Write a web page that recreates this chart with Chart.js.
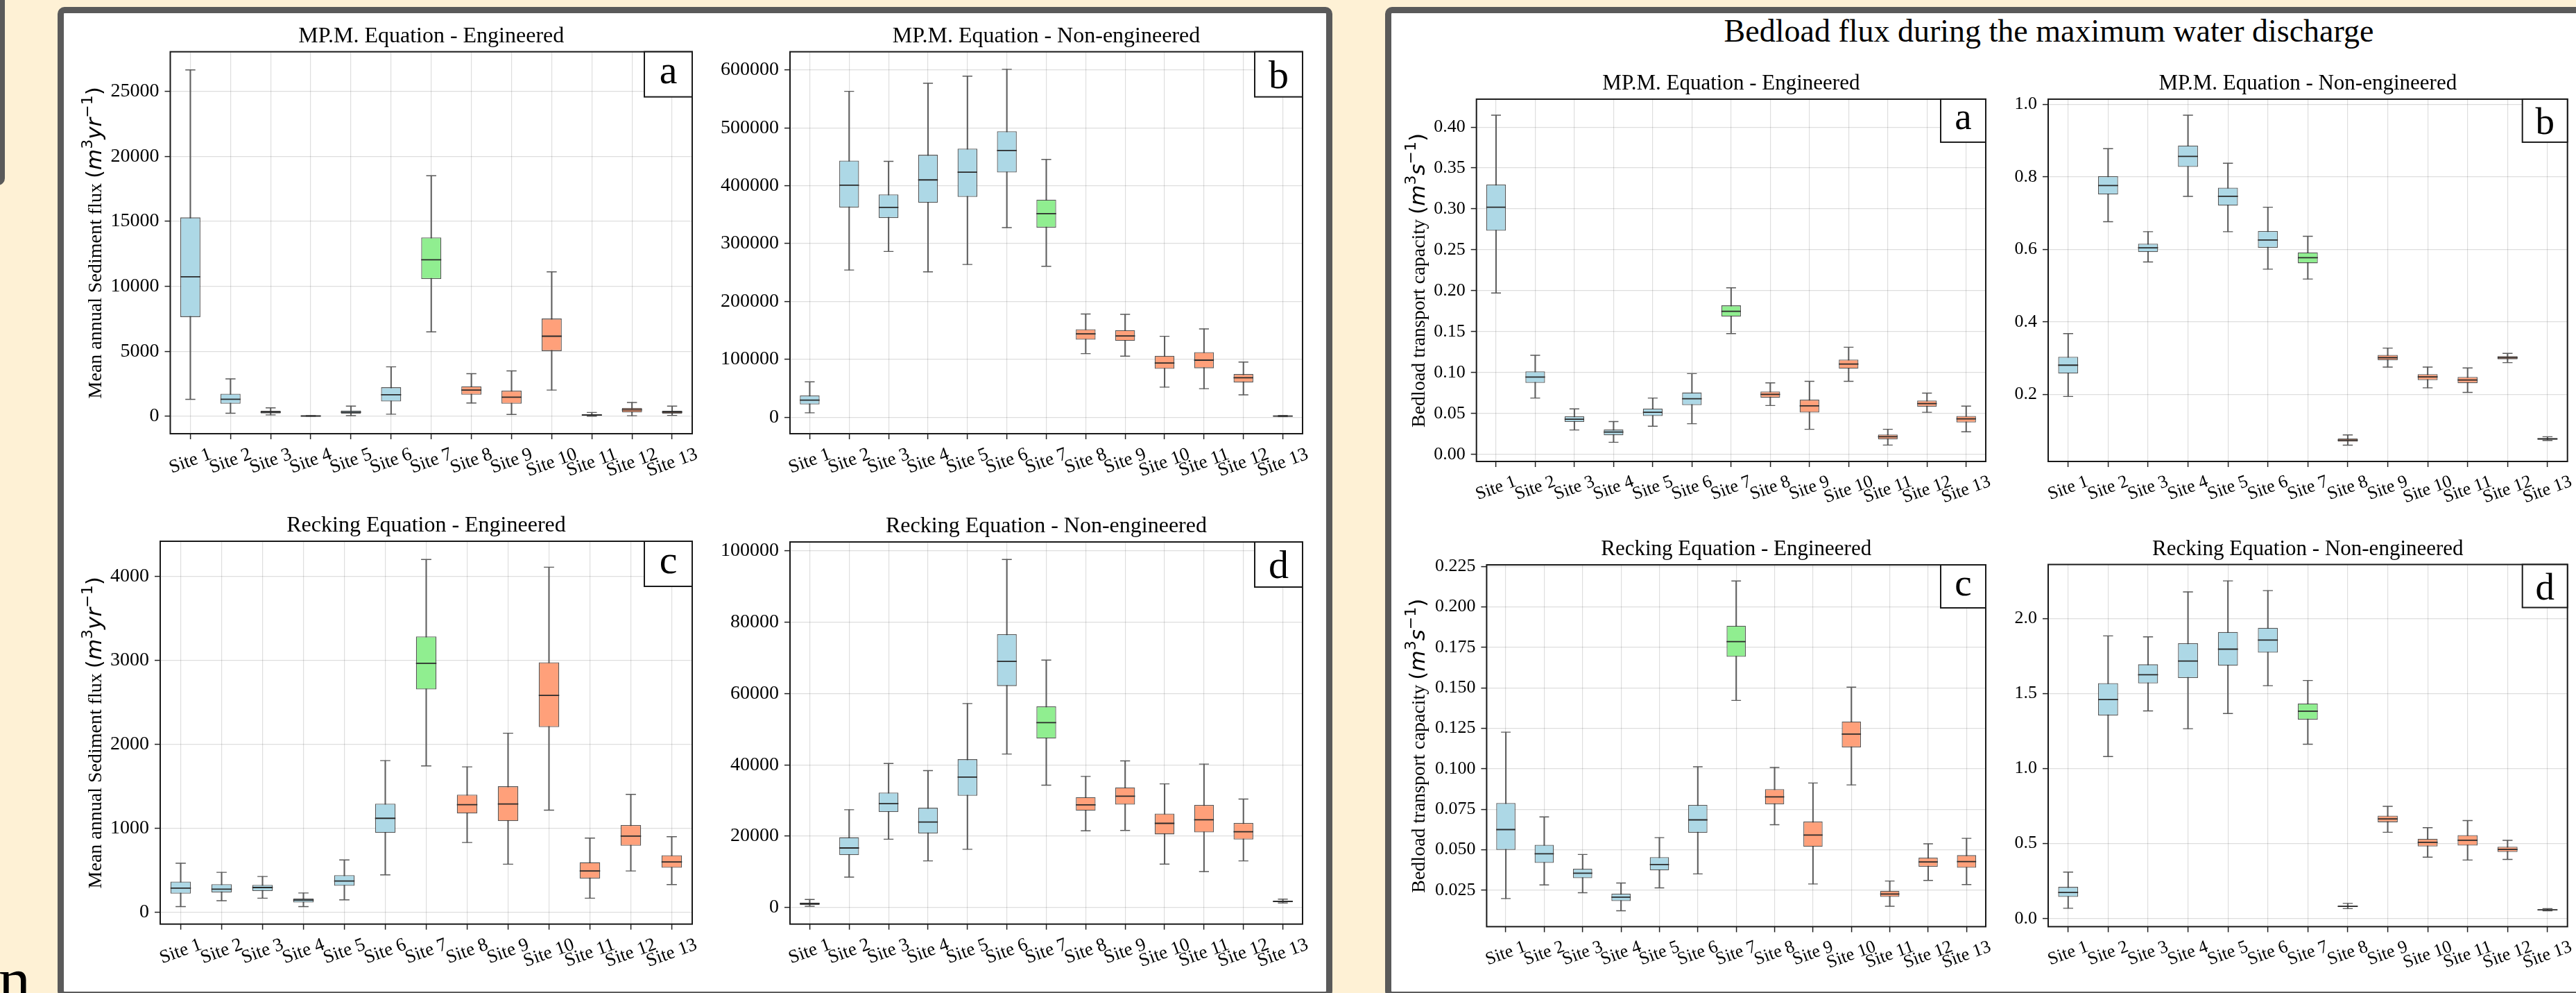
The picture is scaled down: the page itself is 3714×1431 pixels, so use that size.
<!DOCTYPE html>
<html>
<head>
<meta charset="utf-8">
<script src="https://cdn.jsdelivr.net/npm/chart.js@4.4.1/dist/chart.umd.min.js"></script>
<style>
  body { margin: 0; width: 3714px; height: 1431px; overflow: hidden; position: relative; background: #fef1d5; font-family: "Liberation Serif", serif; }
  .panel { position: absolute; box-sizing: border-box; border: 9px solid #5a5a5a; background: #fff; border-radius: 10px; }
  canvas { position: absolute; }
  #sup { position: absolute; left: 2354px; top: 22px; width: 1200px; text-align: center; font-size: 46px; line-height: 46px; color: #000; }
  #cut { position: absolute; left: -2px; top: 1366px; font-size: 92px; line-height: 92px; color: #000; }
</style>
</head>
<body>
<div class="panel" style="left:-40px;top:-40px;width:47px;height:307px"></div>
<div class="panel" style="left:83px;top:10px;width:1838px;height:1428px"></div>
<div class="panel" style="left:1997px;top:10px;width:1760px;height:1428px"></div>
<div id="sup">Bedload flux during the maximum water discharge</div>
<div id="cut">n</div>
<script>
// categories
const sites = ["Site 1", "Site 2", "Site 3", "Site 4", "Site 5", "Site 6", "Site 7",
    "Site 8", "Site 9", "Site 10", "Site 11", "Site 12", "Site 13"];
const siteColors = ["#add8e6", "#add8e6", "#add8e6", "#add8e6", "#add8e6", "#add8e6", "#90ee90",
    "#ffa07a", "#ffa07a", "#ffa07a", "#ffa07a", "#ffa07a", "#ffa07a"];

// box stats per site: [lower whisker, q1, median, q3, upper whisker]
// mean annual sediment flux (m3/yr)
const annualMpmEng = [
    [1308, 7636, 10728, 15295, 26642], [238, 975, 1308, 1737, 2878], [110, 230, 330, 420, 650],
    [5, 15, 25, 40, 60], [50, 200, 330, 450, 790], [166, 1142, 1665, 2236, 3806],
    [6494, 10561, 12036, 13749, 18506], [1023, 1665, 2022, 2307, 3283], [143, 975, 1475, 1974, 3497],
    [2022, 5019, 6161, 7517, 11108], [10, 50, 100, 170, 300], [48, 309, 500, 642, 1070],
    [71, 214, 333, 428, 785]];
const annualMpmNon = [
    [7495, 21949, 29443, 37473, 61028], [254283, 362420, 400964, 443255, 563169],
    [286403, 344218, 362420, 384904, 442184], [251071, 370450, 410064, 453426, 577088],
    [263919, 380621, 423448, 464133, 589400], [327623, 422912, 460921, 494111, 601178],
    [260707, 327623, 351713, 375803, 445396], [109743, 133833, 144004, 152034, 178265],
    [105460, 131692, 140257, 150428, 177730], [51927, 83512, 93683, 105996, 139722],
    [49250, 84582, 98501, 112420, 152570], [38544, 59957, 67987, 74411, 95289],
    [1000, 1600, 1900, 2200, 3000]];
const annualRecEng = [
    [69, 223, 289, 366, 585], [139, 239, 277, 335, 477], [169, 254, 296, 327, 427],
    [69, 119, 146, 166, 231], [150, 316, 373, 443, 624], [447, 947, 1120, 1294, 1806],
    [1744, 2653, 2964, 3284, 4200], [832, 1178, 1282, 1401, 1732], [574, 1086, 1290, 1501, 2133],
    [1217, 2206, 2583, 2976, 4108], [169, 404, 493, 597, 885], [493, 793, 909, 1039, 1405],
    [331, 531, 601, 681, 901]];
const annualRecNon = [
    [363, 727, 1090, 1362, 2271], [8538, 14714, 16712, 19709, 27430], [19164, 26794, 29155, 32243, 40418],
    [13079, 20799, 23978, 27975, 38420], [16349, 31335, 36603, 41599, 57221], [43052, 62125, 69028, 76658, 97638],
    [34332, 47411, 51862, 56403, 69391], [21526, 27157, 28792, 30972, 36785], [21617, 28883, 31244, 33697, 41144],
    [12171, 20527, 23615, 26340, 34696], [10082, 21071, 24614, 28792, 40236], [13079, 19074, 21253, 23706, 30427],
    [1272, 1544, 1726, 1907, 2362]];

// bedload transport capacity at max discharge (m3/s)
const peakMpmEng = [
    [0.1972, 0.2733, 0.3020, 0.3297, 0.4145], [0.0689, 0.0874, 0.0946, 0.1014, 0.1211],
    [0.0299, 0.0397, 0.0431, 0.0466, 0.0556], [0.0148, 0.0235, 0.0273, 0.0303, 0.0401],
    [0.0344, 0.0469, 0.0515, 0.0560, 0.0689], [0.0375, 0.0602, 0.0681, 0.0757, 0.0988],
    [0.1476, 0.1684, 0.1749, 0.1821, 0.2036], [0.0598, 0.0693, 0.0734, 0.0768, 0.0874],
    [0.0307, 0.0511, 0.0594, 0.0670, 0.0893], [0.0893, 0.1048, 0.1105, 0.1158, 0.1310],
    [0.0114, 0.0185, 0.0216, 0.0242, 0.0307], [0.0515, 0.0583, 0.0621, 0.0659, 0.0749],
    [0.0276, 0.0390, 0.0435, 0.0469, 0.0590]];
const peakMpmNon = [
    [0.194, 0.2573, 0.2803, 0.3034, 0.3675], [0.6761, 0.7513, 0.7761, 0.8017, 0.8778],
    [0.5650, 0.5923, 0.6043, 0.6154, 0.6487], [0.7462, 0.8274, 0.8564, 0.8863, 0.9701],
    [0.6487, 0.7205, 0.7462, 0.7701, 0.8376], [0.5453, 0.6043, 0.6256, 0.6504, 0.7162],
    [0.5179, 0.5615, 0.5769, 0.5915, 0.6359], [0.0598, 0.0692, 0.0735, 0.0778, 0.0880],
    [0.2752, 0.2940, 0.3009, 0.3085, 0.3274], [0.2179, 0.2393, 0.2479, 0.2556, 0.2752],
    [0.2051, 0.2308, 0.2393, 0.2479, 0.2726], [0.2872, 0.2966, 0.3009, 0.3051, 0.3128],
    [0.0726, 0.0752, 0.0769, 0.0786, 0.0829]];
const peakRecEng = [
    [0.0198, 0.0498, 0.0624, 0.0788, 0.1226], [0.0282, 0.0418, 0.0474, 0.0530, 0.0702],
    [0.0234, 0.0324, 0.0354, 0.0382, 0.0470], [0.0122, 0.0182, 0.0206, 0.0228, 0.0294],
    [0.0264, 0.0372, 0.0408, 0.0454, 0.0574], [0.0350, 0.0604, 0.0684, 0.0776, 0.1012],
    [0.1422, 0.1692, 0.1786, 0.1884, 0.2160], [0.0654, 0.0780, 0.0826, 0.0874, 0.1008],
    [0.0288, 0.0518, 0.0590, 0.0674, 0.0912], [0.0900, 0.1132, 0.1214, 0.1292, 0.1504],
    [0.0150, 0.0208, 0.0226, 0.0246, 0.0306], [0.0310, 0.0394, 0.0424, 0.0450, 0.0536],
    [0.0284, 0.0388, 0.0426, 0.0466, 0.0570]];
const peakRecNon = [
    [0.069, 0.1444, 0.1746, 0.2112, 0.3103], [1.0797, 1.3534, 1.459, 1.569, 1.8836],
    [1.3836, 1.567, 1.625, 1.694, 1.877], [1.265, 1.6034, 1.7155, 1.834, 2.1767],
    [1.366, 1.685, 1.795, 1.9095, 2.25], [1.5517, 1.7716, 1.8556, 1.9375, 2.1853],
    [1.1616, 1.3254, 1.3815, 1.4332, 1.5862], [0.0668, 0.0776, 0.0819, 0.0862, 0.1013],
    [0.5754, 0.6422, 0.6638, 0.6853, 0.7478], [0.4095, 0.4806, 0.5086, 0.5323, 0.6056],
    [0.3901, 0.487, 0.5216, 0.556, 0.653], [0.3944, 0.444, 0.4612, 0.4784, 0.5216],
    [0.0517, 0.056, 0.0582, 0.0603, 0.0668]];

// axis labels
const yLabels = {
    sed: ["Mean annual Sediment flux ", [["m", "3"], ["yr", "\u22121"]]],
    bed: ["Bedload transport capacity ", [["m", "3"], ["s", "\u22121"]]],
};

// look of each panel
const panelStyle = {
    L: { title: 32, tick: 28, xtick: 27, tag: [69, 65, 58], yLabelX: 137 },
    R: { title: 31, tick: 26, xtick: 26, tag: [65, 62, 55], yLabelX: 2044.5 },
};

// plot: [left, top, right, bottom] of the axes box, y: [min, max, step, decimals]
const charts = [
    { data: annualMpmEng, title: "MP.M. Equation - Engineered", tag: "a", panel: "L", yLabel: "sed",
      plot: [245.5, 74.6, 998, 625], y: [-1335, 28035, 5000, 0] },
    { data: annualMpmNon, title: "MP.M. Equation - Non-engineered", tag: "b", panel: "L",
      plot: [1139, 74.6, 1878, 625], y: [-28600, 631500, 100000, 0] },
    { data: annualRecEng, title: "Recking Equation - Engineered", tag: "c", panel: "L", yLabel: "sed",
      plot: [231, 780, 998, 1331.7], y: [-139, 4417, 1000, 0] },
    { data: annualRecNon, title: "Recking Equation - Non-engineered", tag: "d", panel: "L",
      plot: [1139, 781, 1878, 1331.7], y: [-4640, 102540, 20000, 0] },
    { data: peakMpmEng, title: "MP.M. Equation - Engineered", tag: "a", panel: "R", yLabel: "bed",
      plot: [2128.7, 142.9, 2863, 665], y: [-0.0086, 0.4341, 0.05, 2] },
    { data: peakMpmNon, title: "MP.M. Equation - Non-engineered", tag: "b", panel: "R",
      plot: [2953, 142.9, 3701.7, 665], y: [0.0147, 1.0143, 0.2, 1] },
    { data: peakRecEng, title: "Recking Equation - Engineered", tag: "c", panel: "R", yLabel: "bed",
      plot: [2143.4, 814, 2863, 1335.4], y: [0.0024, 0.226, 0.025, 3] },
    { data: peakRecNon, title: "Recking Equation - Non-engineered", tag: "d", panel: "R",
      plot: [2953, 813.5, 3701.7, 1335.4], y: [-0.0536, 2.359, 0.5, 1] },
];

Chart.defaults.font.family = '"Liberation Serif"';
const gridColor = "rgba(0,0,0,0.13)";

function drawYLabel(ctx, x, y, spec, f, fm) {
    const serif = f + 'px "Liberation Serif"';
    const sans = fm + 'px "DejaVu Sans"';
    const ital = "italic " + fm + 'px "DejaVu Sans"';
    const sup = Math.round(fm * 0.7) + 'px "DejaVu Sans"';
    const parts = [[spec[0], serif, 0], ["(", sans, 0]];
    spec[1].forEach(([b, e]) => {
        parts.push([b, ital, 0]);
        parts.push([e, sup, -0.42 * fm]);
    });
    parts.push([")", sans, 0]);
    let total = 0;
    parts.forEach(p => { ctx.font = p[1]; p.push(ctx.measureText(p[0]).width); total += p[3]; });
    ctx.save();
    ctx.translate(x, y);
    ctx.rotate(-Math.PI / 2);
    ctx.fillStyle = "#000";
    ctx.textAlign = "left";
    ctx.textBaseline = "alphabetic";
    let px = -total / 2;
    parts.forEach(p => {
        ctx.font = p[1];
        ctx.fillText(p[0], px, 0.33 * f + p[2]);
        px += p[3];
    });
    ctx.restore();
}

function extras(cfg, st) {
    return {
        id: "extras",
        afterDraw(chart) {
            const { ctx, chartArea: a } = chart;
            ctx.save();
            ctx.strokeStyle = "#1a1a1a";
            ctx.lineWidth = 2;
            ctx.strokeRect(a.left, a.top, a.right - a.left, a.bottom - a.top);

            // panel letter box
            const [bw, bh, bf] = st.tag;
            ctx.fillStyle = "#fff";
            ctx.fillRect(a.right - bw, a.top, bw, bh);
            ctx.strokeRect(a.right - bw, a.top, bw, bh);
            ctx.font = bf + 'px "Liberation Serif"';
            ctx.fillStyle = "#000";
            ctx.textAlign = "center";
            ctx.textBaseline = "alphabetic";
            const m = ctx.measureText(cfg.tag);
            ctx.fillText(cfg.tag, a.right - bw / 2,
                a.top + bh / 2 + (m.actualBoundingBoxAscent - m.actualBoundingBoxDescent) / 2);

            // rotated site labels, centred under each tick
            const xs = chart.scales.x;
            const th = 20 * Math.PI / 180;
            ctx.font = st.xtick + 'px "Liberation Serif"';
            ctx.textAlign = "center";
            ctx.textBaseline = "middle";
            xs.ticks.forEach((t, i) => {
                const label = xs.getLabelForValue(t.value);
                const w = ctx.measureText(label).width;
                const h = st.xtick * 1.1;
                const H = w * Math.sin(th) + h * Math.cos(th);
                ctx.save();
                ctx.translate(xs.getPixelForTick(i), a.bottom + 15 + H / 2);
                ctx.rotate(-th);
                ctx.fillText(label, 0, 0);
                ctx.restore();
            });

            if (cfg.yLabel) {
                const cl = chart.canvas.offsetLeft;
                drawYLabel(ctx, st.yLabelX - cl, (a.top + a.bottom) / 2, yLabels[cfg.yLabel], 28, 31);
            }
            ctx.restore();
        },
    };
}

function makeChart(cfg) {
    const st = panelStyle[cfg.panel];
    const [pl, pt, pr, pb] = cfg.plot;
    const [yMin, yMax, step, dec] = cfg.y;
    const f = st.title;
    const padTop = 6, padBot = 22 - 0.6 * f;
    const T = padTop + 1.2 * f + padBot;
    const cl = Math.floor(pl - 150), ct = Math.floor(pt - T - 2);
    const cr = Math.ceil(pr + 10), cb = Math.ceil(pb + 100);

    const cv = document.createElement("canvas");
    cv.width = cr - cl;
    cv.height = cb - ct;
    cv.style.left = cl + "px";
    cv.style.top = ct + "px";
    document.body.appendChild(cv);

    const catPart = k => c => {
        const a = c.chart.chartArea;
        return a ? (a.right - a.left) / sites.length * k : 4;
    };
    const stats = cfg.data;

    new Chart(cv, {
        type: "bar",
        data: {
            labels: sites,
            datasets: [
                { type: "line", data: stats.map(s => s[2]), showLine: false, pointStyle: "line",
                  pointRadius: catPart(0.25), pointBorderColor: "#2a2a2a", pointBorderWidth: 1.8, order: 0 },
                { data: stats.map(s => [s[1], s[3]]), backgroundColor: siteColors,
                  borderColor: "rgba(45,45,45,0.8)", borderWidth: 1.3, borderSkipped: false,
                  barPercentage: 0.5, categoryPercentage: 1, grouped: false, order: 1 },
                { type: "line", data: stats.map(s => s[0]), showLine: false, pointStyle: "line",
                  pointRadius: catPart(0.125), pointBorderColor: "#5a5a5a", pointBorderWidth: 1.4, order: 2 },
                { type: "line", data: stats.map(s => s[4]), showLine: false, pointStyle: "line",
                  pointRadius: catPart(0.125), pointBorderColor: "#5a5a5a", pointBorderWidth: 1.4, order: 2 },
                { data: stats.map(s => [s[0], s[4]]), backgroundColor: "#5e5e5e", barThickness: 1.4,
                  grouped: false, order: 3 },
            ],
        },
        options: {
            responsive: false,
            animation: false,
            devicePixelRatio: 1,
            events: [],
            layout: { autoPadding: false, padding: { top: pt - ct - T, right: cr - pr, left: 0, bottom: 0 } },
            plugins: {
                legend: { display: false },
                tooltip: { enabled: false },
                title: {
                    display: true,
                    text: cfg.title,
                    fullSize: false,
                    color: "#000",
                    font: { size: f, weight: "normal", family: '"Liberation Serif"' },
                    padding: { top: padTop, bottom: padBot },
                },
            },
            scales: {
                x: {
                    offset: true,
                    grid: { offset: false, color: gridColor, lineWidth: 1.2, tickColor: "#222",
                            tickLength: 8, tickWidth: 1.5 },
                    border: { display: false },
                    ticks: { display: false },
                    afterFit: s => { s.height = cb - pb; },
                },
                y: {
                    min: yMin,
                    max: yMax,
                    grid: { color: gridColor, lineWidth: 1.2, tickColor: "#222", tickLength: 8, tickWidth: 1.5 },
                    border: { display: false },
                    ticks: {
                        padding: 8,
                        color: "#000",
                        font: { size: st.tick, family: '"Liberation Serif"' },
                        callback: v => Number(v).toFixed(dec),
                    },
                    // ticks at whole multiples of the step inside the axis range
                    afterBuildTicks: s => {
                        const t = [];
                        for (let k = Math.ceil(yMin / step); k * step <= yMax + step * 1e-6; k++) {
                            t.push({ value: +(k * step).toFixed(6) });
                        }
                        s.ticks = t;
                    },
                    afterFit: s => { s.width = pl - cl; },
                },
            },
        },
        plugins: [extras(cfg, st)],
    });
}

charts.forEach(makeChart);
</script>
</body>
</html>
